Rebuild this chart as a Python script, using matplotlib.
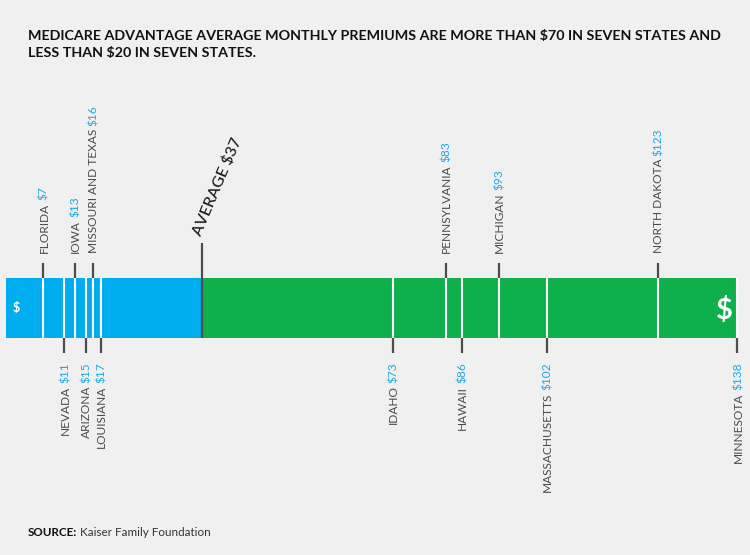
import matplotlib
matplotlib.use("Agg")
import matplotlib.pyplot as plt
from matplotlib.font_manager import FontProperties
from matplotlib.transforms import offset_copy

# premiums per state, split into labels above / below the bar
top_states = ["FLORIDA", "IOWA", "MISSOURI AND TEXAS", "PENNSYLVANIA", "MICHIGAN", "NORTH DAKOTA"]
top_values = [7, 13, 16, 83, 93, 123]
bottom_states = ["NEVADA", "ARIZONA", "LOUISIANA", "IDAHO", "HAWAII", "MASSACHUSETTS", "MINNESOTA"]
bottom_values = [11, 15, 17, 73, 86, 102, 138]
average = 37

title = ("MEDICARE ADVANTAGE AVERAGE MONTHLY PREMIUMS ARE MORE THAN $70 IN SEVEN STATES AND\n"
         "LESS THAN $20 IN SEVEN STATES.")

BG = "#f0f0f0"
BLUE = "#00aeef"
GREEN = "#0db04b"
TICK = "#4d4d4d"
NAME = "#4a4a4a"
VAL = "#1ca9e1"
FONT = "Lato"

# the crowded low end is spread a little, as in the original layout (points)
nudge = {"MISSOURI AND TEXAS": 1.5, "LOUISIANA": 3.5}

fig = plt.figure(figsize=(7.5, 5.55), dpi=100, facecolor=BG)
ax = fig.add_axes([0, 0, 1, 1])
ax.set_facecolor(BG)
ax.set_xlim(-6 / 5.3, 744 / 5.3)
ax.set_ylim(555, 0)  # y in pixels from the top
ax.axis("off")
renderer = fig.canvas.get_renderer()

top_bar, bot_bar = 278, 338
mid = (top_bar + bot_bar) / 2
vmax = max(top_values + bottom_values)

# the bar: blue up to the average, green after
ax.barh(mid, average, left=0, height=bot_bar - top_bar, color=BLUE)
ax.barh(mid, vmax - average, left=average, height=bot_bar - top_bar, color=GREEN)

ax.vlines([average], top_bar - 35, bot_bar, color=TICK, lw=1.6, zorder=3)

fs = 8.6
prop = FontProperties(family=FONT, size=fs)


def width(s):
    return renderer.get_text_width_height_descent(s, prop, ismath=False)[0]


def marker(name, v, above):
    tr = offset_copy(ax.transData, fig=fig, x=nudge.get(name, 0), y=0, units="points")
    # baseline shifted so the capitals sit centred on the tick
    ttr = offset_copy(ax.transData, fig=fig, x=nudge.get(name, 0) + 0.36 * fs, y=0, units="points")
    ax.vlines([v], top_bar, bot_bar, color="white", lw=1.5, transform=tr, zorder=3)
    val = f"${v}"
    w_full = width(f"{name} {val}")
    w_val = width(val)
    kw = dict(rotation=90, rotation_mode="anchor", ha="left", va="baseline",
              fontproperties=prop, transform=ttr)
    if above:
        ax.vlines([v], top_bar - 15, top_bar, color=TICK, lw=1.6, transform=tr)
        start = top_bar - 25
    else:
        ax.vlines([v], bot_bar, bot_bar + 15, color=TICK, lw=1.6, transform=tr)
        start = bot_bar + 24 + w_full
    ax.text(v, start, name, color=NAME, **kw)
    ax.text(v, start - (w_full - w_val), val, color=VAL, **kw)


for name, v in zip(top_states, top_values):
    marker(name, v, True)
for name, v in zip(bottom_states, bottom_values):
    marker(name, v, False)

ax.text(average + 0.2, top_bar - 40, f"AVERAGE ${average}", rotation=67, rotation_mode="anchor",
        ha="left", va="bottom", fontsize=11.5, color="#1a1a1a", family=FONT, fontweight="medium")

# dollar signs inside the bar
ax.text(1.2, mid, "$", ha="left", va="center", fontsize=9,
        color="white", fontweight="bold", family=FONT)
ax.text(vmax - 2.5, mid + 2, "$", ha="center", va="center", fontsize=21,
        color="white", fontweight="bold", family=FONT)

fig.text(28 / 750, 1 - 30 / 555, title, ha="left", va="top", fontsize=10.25,
         fontweight="bold", color="#111111", family=FONT, linespacing=1.5)

t_src = ax.annotate("SOURCE:", xy=(28 / 750, 1 - 536 / 555), xycoords="figure fraction",
                    ha="left", va="baseline", fontsize=8.4, fontweight="bold",
                    color="#111111", family=FONT)
ax.annotate(" Kaiser Family Foundation", xy=(1, 0), xycoords=t_src, ha="left", va="bottom",
            fontsize=8.4, color="#333333", family=FONT)

fig.savefig("out.png", dpi=100, facecolor=BG)
